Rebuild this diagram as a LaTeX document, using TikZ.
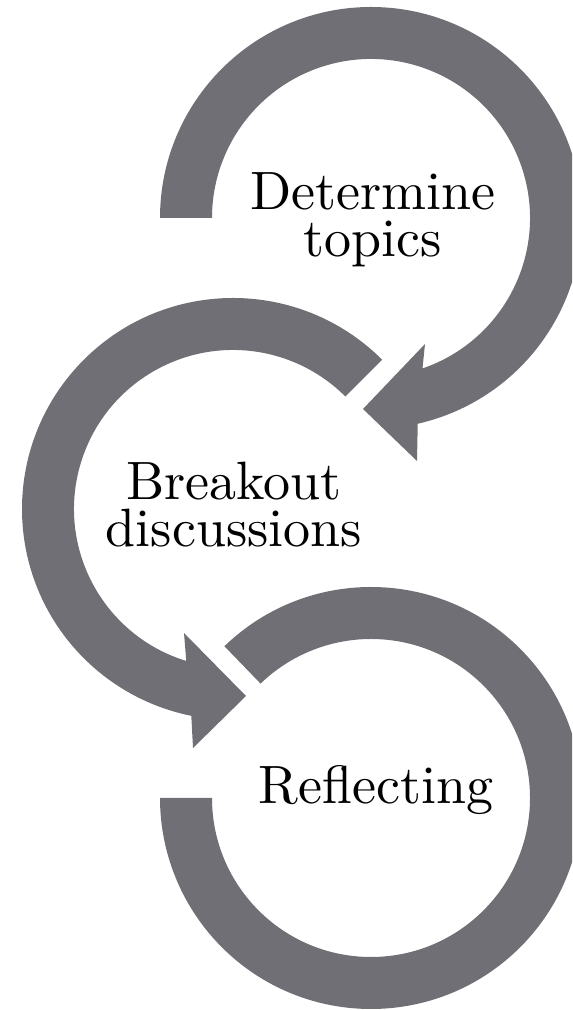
\documentclass[tikz,border=0pt]{standalone}
\usepackage{fontspec}
\setmainfont{lmroman10-regular}[Extension=.otf]

\definecolor{loopgray}{RGB}{112,111,117}
\tikzset{
  looparrow/.style={fill=loopgray},
  looptext/.style={align=center, font=\fontsize{27}{23.5}\selectfont}
}

\begin{document}
\begin{tikzpicture}[x=0.5pt, y=0.5pt]
        \clip (0, 0) rectangle (572, 1010);

        \coordinate (c1) at (371, 792);
        \coordinate (c2) at (233, 501);
        \coordinate (c3) at (371, 212);

        % first loop, clockwise, head at the bottom
        \fill[looparrow] ([shift={(c1)}] 180:105.5pt) arc[start angle=180, end angle=-77.2, radius=105.5pt]
            -- ([shift={(c1)}] 46, -243) -- ([shift={(c1)}] -8, -191) -- ([shift={(c1)}] 54, -126)
            -- ([shift={(c1)}] -71.1:79.5pt) arc[start angle=-71.1, end angle=180, radius=79.5pt] -- cycle;

        % second loop, counter clockwise
        \fill[looparrow] ([shift={(c2)}] 45:105.5pt) arc[start angle=45, end angle=258.6, radius=105.5pt]
            -- ([shift={(c2)}] -40, -239) -- ([shift={(c2)}] 13, -187) -- ([shift={(c2)}] -49, -124)
            -- ([shift={(c2)}] 252.9:79.5pt) arc[start angle=252.9, end angle=45, radius=79.5pt] -- cycle;

        % third loop, no head
        \fill[looparrow] ([shift={(c3)}] 134:105.5pt) arc[start angle=134, end angle=-180, radius=105.5pt]
            -- ([shift={(c3)}] -180:79.5pt) arc[start angle=-180, end angle=134, radius=79.5pt] -- cycle;

        \node[looptext] (determine) at (373, 790) {Determine\\topics};

        \node[looptext] (breakout) at (234, 505) {Breakout\\discussions};

        \node[looptext] (reflecting) at (376, 220) {Reflecting};
\end{tikzpicture}
\end{document}
